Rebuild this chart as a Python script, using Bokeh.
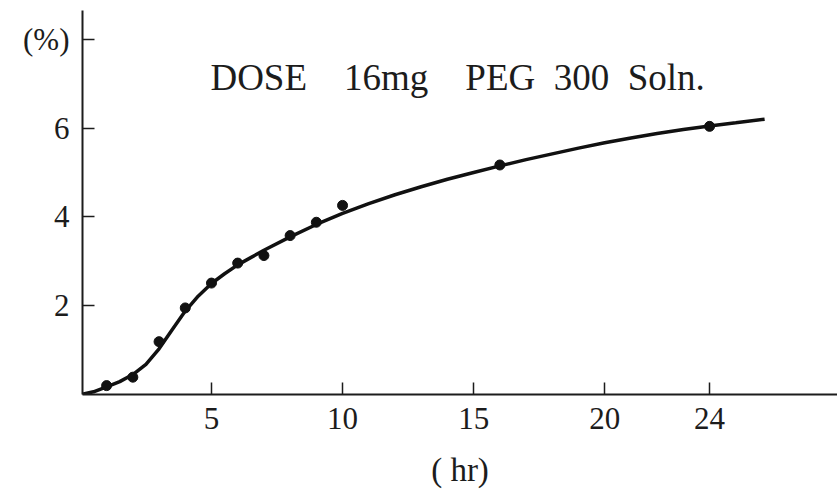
from bokeh.plotting import figure
from bokeh.models import Range1d, FixedTicker, Label
from bokeh.embed import file_html
from bokeh.resources import INLINE

# Observed data points (hr, %)
obs_hr = [1, 2, 3, 4, 5, 6, 7, 8, 9, 10, 16, 24]
obs_pct = [0.20, 0.39, 1.19, 1.95, 2.51, 2.96, 3.13, 3.58, 3.88, 4.26, 5.17, 6.04]

# Fitted curve (hr, %)
curve_hr = [0.0, 0.5, 1.0, 1.5, 2.0, 2.5, 3.0, 3.5, 4.0, 4.5, 5.0, 5.5, 6.0,
            7.0, 8.0, 9.0, 10.0, 11.0, 12.0, 13.0, 14.0, 15.0, 16.0, 17.0,
            18.0, 19.0, 20.0, 21.0, 22.0, 23.0, 24.0, 25.0, 26.1]
curve_pct = [0.0, 0.06, 0.17, 0.29, 0.45, 0.68, 1.03, 1.46, 1.88, 2.22, 2.50,
             2.72, 2.92, 3.25, 3.55, 3.83, 4.08, 4.30, 4.50, 4.68, 4.85, 5.00,
             5.15, 5.29, 5.42, 5.55, 5.67, 5.78, 5.88, 5.97, 6.05, 6.12, 6.20]

x_ticks = [5, 10, 15, 20, 24]
y_ticks = [2, 4, 6, 8]
y_tick_labels = {8: "(%)"}
title_text = "DOSE\u00a0\u00a0\u00a0 16mg\u00a0\u00a0\u00a0 PEG\u00a0 300\u00a0 Soln."
x_label = "(\u00a0hr)"

FONT = "Liberation Serif"
INK = "#1c1c1c"

p = figure(width=837, height=493, output_backend="svg", toolbar_location=None,
           x_range=Range1d(0.08, 28.88), y_range=Range1d(0, 8.65),
           min_border_left=82, min_border_right=0, min_border_top=10,
           min_border_bottom=99)
p.background_fill_color = "white"
p.border_fill_color = "white"
p.outline_line_color = None
p.xgrid.grid_line_color = None
p.ygrid.grid_line_color = None

for ax in (p.xaxis, p.yaxis):
    ax.axis_line_width = 2
    ax.axis_line_color = INK
    ax.major_tick_in = 12
    ax.major_tick_out = 0
    ax.minor_tick_in = 0
    ax.minor_tick_out = 0
    ax.major_tick_line_width = 1.5
    ax.major_tick_line_color = INK
    ax.major_label_text_font = FONT
    ax.major_label_text_font_size = "31px"
    ax.major_label_text_color = INK

p.xaxis.ticker = FixedTicker(ticks=x_ticks)
p.yaxis.ticker = FixedTicker(ticks=y_ticks)
p.yaxis.major_label_overrides = y_tick_labels
p.xaxis.major_label_standoff = 13
p.yaxis.major_label_standoff = 13

p.xaxis.axis_label = x_label
p.xaxis.axis_label_text_font = FONT
p.xaxis.axis_label_text_font_size = "33px"
p.xaxis.axis_label_text_font_style = "normal"
p.xaxis.axis_label_text_color = INK
p.xaxis.axis_label_standoff = 20

p.line(curve_hr, curve_pct, line_width=3.5, line_color="#111111")
p.scatter(obs_hr, obs_pct, size=10, fill_color="#111111", line_color="#111111")

title = Label(x=4.96, y=7.14, text=title_text, text_font=FONT,
              text_font_size="37px", text_color=INK,
              text_baseline="alphabetic", text_align="left")
p.add_layout(title)

open("out.html", "w").write(file_html(p, INLINE))
